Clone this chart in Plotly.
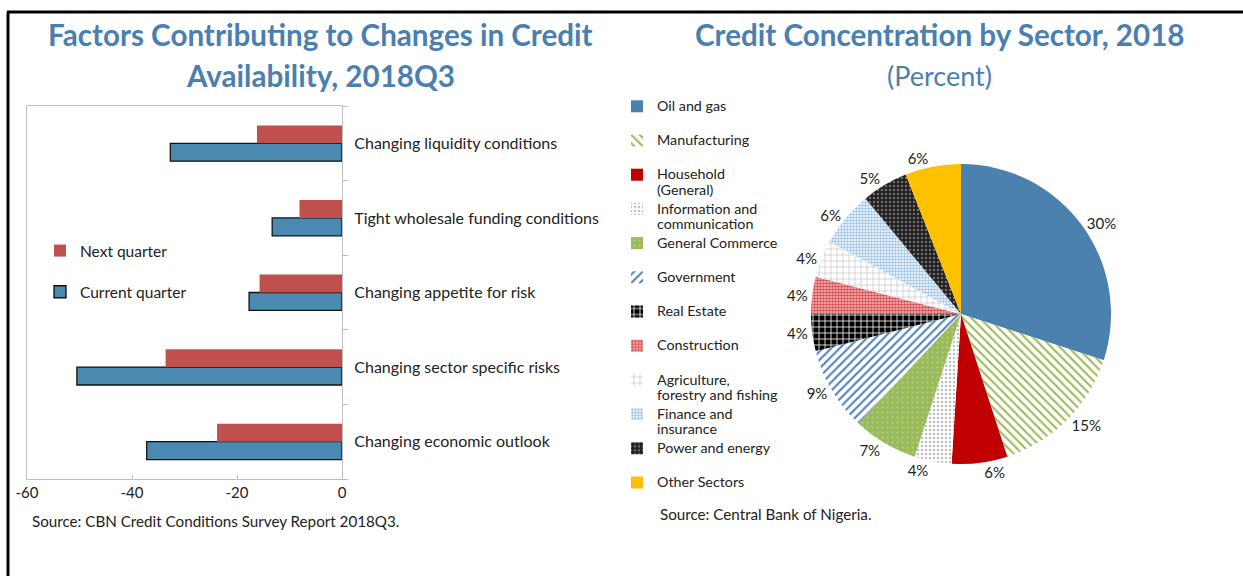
import plotly.graph_objects as go

W, H = 1243, 576

# ---- Left chart data ----
factors = [
    "Changing economic outlook",
    "Changing sector specific risks",
    "Changing appetite for risk",
    "Tight wholesale funding conditions",
    "Changing liquidity conditions",
]
current_quarter = [-37.2, -50.5, -17.7, -13.3, -32.7]
next_quarter = [-23.8, -33.6, -15.7, -8.1, -16.2]
x_ticks = [-60, -40, -20, 0]
x_tick_labels = ["-60", "-40", "-20", "0"]

# ---- Right chart data ----
sectors = [
    "Oil and gas",
    "Manufacturing",
    "Household<br>(General)",
    "Information and<br>communication",
    "General Commerce",
    "Government",
    "Real Estate",
    "Construction",
    "Agriculture,<br>forestry and fishing",
    "Finance and<br>insurance",
    "Power and energy",
    "Other Sectors",
]
shares = [30, 15, 6, 4, 7, 9, 4, 4, 4, 6, 5, 6]

def px(x):
    return x / W

def py(y):
    return 1 - y / H

TITLE_BLUE = "#4A7FB0"
FONT = "Lato"

fig = go.Figure()

fig.add_trace(go.Bar(
    y=factors, x=current_quarter, orientation="h", name="Current quarter",
    marker=dict(color="#4A8AB0", line=dict(color="#111111", width=1.3)),
    legend="legend", legendgroup="c", legendrank=2,
))
fig.add_trace(go.Bar(
    y=factors, x=next_quarter, orientation="h", name="Next quarter",
    marker=dict(color="#C0504D", line=dict(width=0)),
    legend="legend", legendgroup="n", legendrank=1,
))

# legend labels: two lines each (padding line for single-line names), larger inline font
def legend_label(s):
    lines = s.split("<br>")
    if len(lines) == 1:
        lines.append(" ")
    return "<br>".join('<span style="font-size:14.3px">%s</span>' % ln for ln in lines)

legend_labels = [legend_label(s) for s in sectors]

fig.add_trace(go.Pie(
    labels=legend_labels, values=shares, sort=False, direction="clockwise",
    rotation=0,
    marker=dict(
        colors=["#4A81AF", "#9BBB59", "#C00000", "#BFBFBF", "#9BBB59", "#4F81BD",
                "#000000", "#D9474A", "#A6A6A6", "#9DC3E6", "#231F20", "#FFC000"],
        line=dict(width=0),
        pattern=dict(
            shape=["", "\\", "", ".", ".", "/", "+", ".", "+", ".", ".", ""],
            fgcolor=["#4A81AF", "#9BBB59", "#C00000", "#BFBFBF", "#B7CF96", "#4F81BD",
                     "#FFFFFF", "#D9474A", "#A6A6A6", "#9DC3E6", "#6E6E6E", "#FFC000"],
            bgcolor=["#4A81AF", "#FFFFFF", "#C00000", "#FFFFFF", "#9BBB59", "#FFFFFF",
                     "#000000", "#F4C6C6", "#FFFFFF", "#FFFFFF", "#231F20", "#FFC000"],
            size=[6, 6, 6, 4, 5, 6, 6, 3, 6, 3, 4, 6],
            solidity=[0.3, 0.35, 0.3, 0.3, 0.15, 0.35, 0.25, 0.6, 0.15, 0.55, 0.3, 0.3],
        ),
    ),
    texttemplate="%{value}%", textposition="outside",
    textfont=dict(family=FONT, size=15, color="#222222"),
    domain=dict(x=[px(811), px(1111)], y=[py(464), py(164)]),
    legend="legend2", showlegend=True, hoverinfo="label+percent",
))

fig.update_layout(
    width=W, height=H,
    margin=dict(l=0, r=0, t=0, b=0, autoexpand=False),
    paper_bgcolor="white", plot_bgcolor="white",
    font=dict(family=FONT, color="#222222"),
    barmode="group", bargap=0.52, bargroupgap=0,
    xaxis=dict(
        domain=[px(27), px(342)], range=[-60, 0],
        tickvals=x_ticks, ticktext=x_tick_labels,
        ticks="inside", ticklen=4, tickcolor="#BFBFBF",
        showline=True, linecolor="#BFBFBF", linewidth=1.2, mirror=True,
        showgrid=False, zeroline=False, automargin=False,
        tickfont=dict(family=FONT, size=15, color="#222222"),
    ),
    yaxis=dict(
        domain=[py(479), py(106)], side="right",
        categoryorder="array", categoryarray=factors,
        tickson="boundaries", ticks="outside", ticklen=5, tickcolor="#BFBFBF",
        showline=True, linecolor="#BFBFBF", linewidth=1.2, mirror=True,
        showgrid=False, ticklabelstandoff=8, automargin=False,
        tickfont=dict(family=FONT, size=16, color="#222222"),
    ),
    legend=dict(
        x=px(40), y=py(234), xanchor="left", yanchor="top",
        traceorder="grouped", tracegroupgap=18,
        font=dict(family=FONT, size=15.5, color="#222222"),
        bgcolor="rgba(0,0,0,0)", itemwidth=30,
    ),
    legend2=dict(
        x=px(617), y=py(92), xanchor="left", yanchor="top",
        font=dict(family=FONT, size=12, color="#222222"),
        valign="top", bgcolor="rgba(0,0,0,0)", itemwidth=30,
        traceorder="normal",
    ),
    showlegend=True,
)

annotations = [
    dict(text="<b>Factors Contributing to Changes in Credit</b>", x=px(320), y=py(35),
         font=dict(size=29.6, color=TITLE_BLUE)),
    dict(text="<b>Availability, 2018Q3</b>", x=px(320), y=py(75),
         font=dict(size=29.6, color=TITLE_BLUE)),
    dict(text="<b>Credit Concentration by Sector, 2018</b>", x=px(940), y=py(35),
         font=dict(size=29.6, color=TITLE_BLUE)),
    dict(text="(Percent)", x=px(940), y=py(75),
         font=dict(size=27, color=TITLE_BLUE)),
    dict(text="Source: CBN Credit Conditions Survey Report 2018Q3.", x=px(30), y=py(521),
         xanchor="left", font=dict(size=15.2, color="#222222")),
    dict(text="Source: Central Bank of Nigeria.", x=px(658), y=py(514),
         xanchor="left", font=dict(size=15.2, color="#222222")),
]
for a in annotations:
    a.setdefault("xanchor", "center")
    fig.add_annotation(xref="paper", yref="paper", showarrow=False,
                       yanchor="middle", font_family=FONT, **a)

fig.add_shape(type="line", xref="paper", yref="paper", x0=px(7), x1=1, y0=py(12), y1=py(12),
              line=dict(color="black", width=3))
fig.add_shape(type="line", xref="paper", yref="paper", x0=px(8), x1=px(8), y0=py(12), y1=0,
              line=dict(color="black", width=3))

fig.write_html(
    "out.html",
    config={"displayModeBar": False},
    post_script="document.body.style.margin='0';document.body.style.overflow='hidden';",
)
